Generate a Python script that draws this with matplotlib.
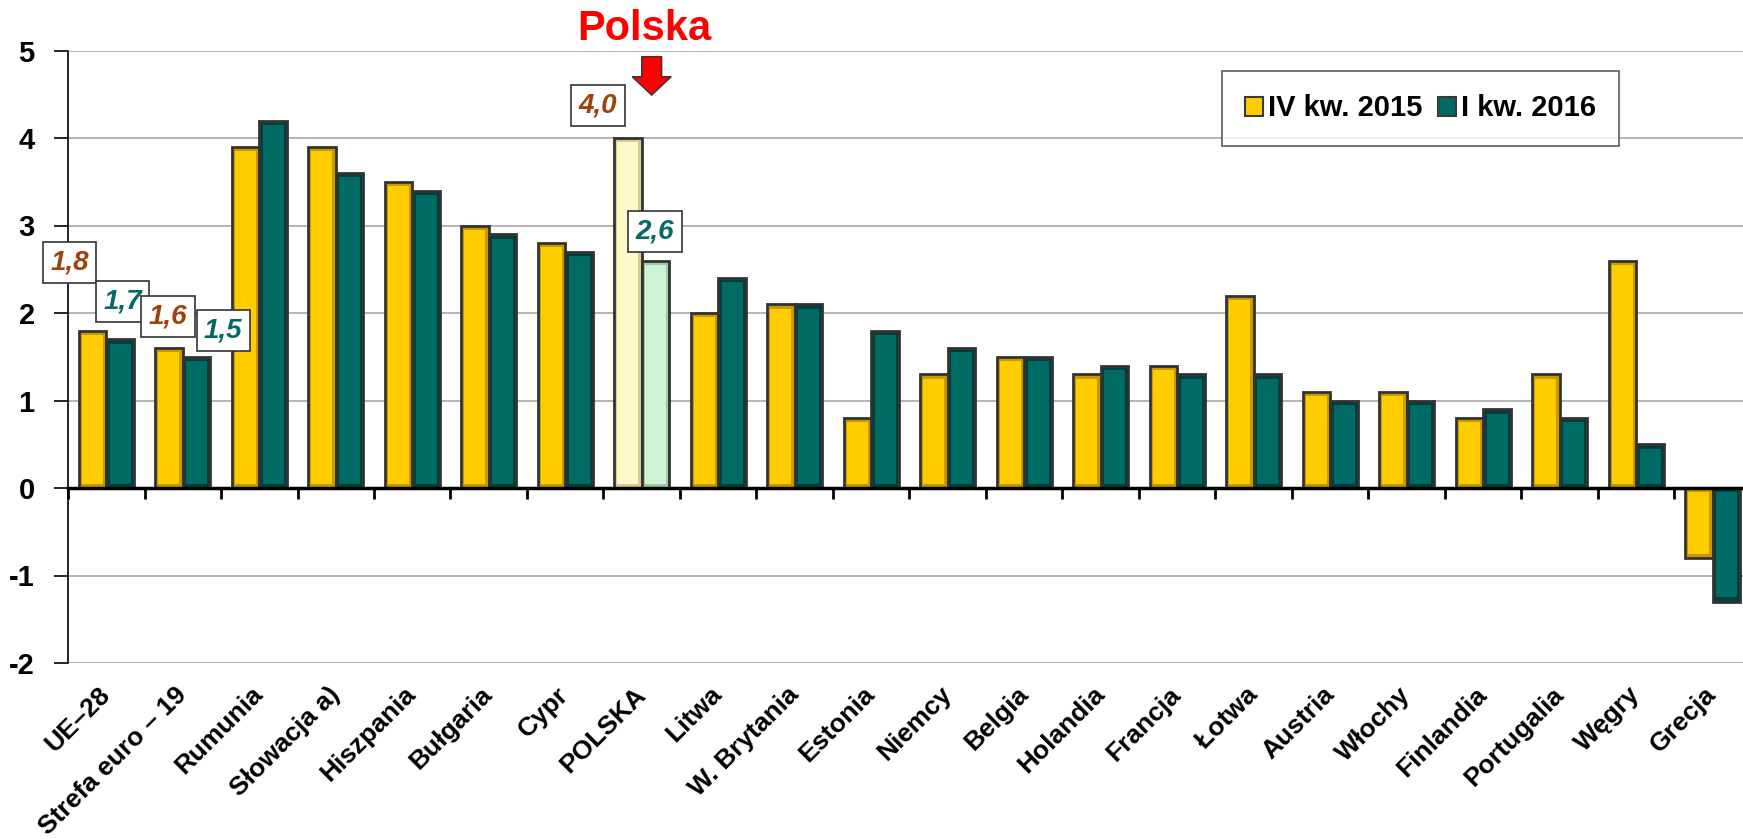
import numpy as np
import matplotlib.pyplot as plt
from matplotlib.patches import Patch, Polygon

plt.rcParams['font.family'] = ['Liberation Sans', 'DejaVu Sans']
plt.rcParams['font.weight'] = 'bold'
plt.rcParams['axes.unicode_minus'] = False

# data
countries = ['UE–28', 'Strefa euro – 19', 'Rumunia', 'Słowacja a)', 'Hiszpania',
             'Bułgaria', 'Cypr', 'POLSKA', 'Litwa', 'W. Brytania', 'Estonia',
             'Niemcy', 'Belgia', 'Holandia', 'Francja', 'Łotwa', 'Austria',
             'Włochy', 'Finlandia', 'Portugalia', 'Węgry', 'Grecja']
q4_2015 = [1.8, 1.6, 3.9, 3.9, 3.5, 3.0, 2.8, 4.0, 2.0, 2.1, 0.8,
           1.3, 1.5, 1.3, 1.4, 2.2, 1.1, 1.1, 0.8, 1.3, 2.6, -0.8]
q1_2016 = [1.7, 1.5, 4.2, 3.6, 3.4, 2.9, 2.7, 2.6, 2.4, 2.1, 1.8,
           1.6, 1.5, 1.4, 1.3, 1.3, 1.0, 1.0, 0.9, 0.8, 0.5, -1.3]
series_names = ['IV kw. 2015', 'I kw. 2016']
yticks = [-2, -1, 0, 1, 2, 3, 4, 5]

# colours
yellow, teal = '#FFCC00', '#006A64'
yellow_rim, teal_rim = '#C99A00', '#003F3B'
pl_yellow, pl_teal = '#FFF8C8', '#CFF2D6'
pl_yellow_rim, pl_teal_rim = '#D9CB8C', '#9CC9A6'
brown_txt = '#A0400A'

fig = plt.figure(figsize=(17.43, 8.39), dpi=100)
ax = fig.add_axes([68 / 1743, 1 - 663 / 839, (1751 - 68) / 1743, (663 - 50.5) / 839])

x = np.arange(len(countries))
w = 0.36
hl = countries.index('POLSKA')


def draw_bars(xpos, vals, face, rim, pl_face, pl_rim):
    faces = [pl_face if i == hl else face for i in range(len(vals))]
    rims = [pl_rim if i == hl else rim for i in range(len(vals))]
    ax.bar(xpos, vals, w, color=rims, edgecolor='#333333', linewidth=2, zorder=3)
    # inner face gives a simple bevelled look
    vals = np.array(vals)
    d = 0.05 * np.sign(vals)
    ax.bar(xpos, vals - 2 * d, w - 0.085, bottom=d, color=faces, linewidth=0, zorder=4)


draw_bars(x - w / 2, q4_2015, yellow, yellow_rim, pl_yellow, pl_yellow_rim)
draw_bars(x + w / 2, q1_2016, teal, teal_rim, pl_teal, pl_teal_rim)

ax.set_xlim(-0.5, len(countries) - 0.5)
ax.set_ylim(-2, 5)
ax.set_yticks(yticks)
ax.set_yticklabels([str(v) for v in yticks])
ax.yaxis.grid(True, color='#A8A8A8', linewidth=1.2)
ax.set_axisbelow(True)
ax.tick_params(axis='y', length=10, width=1.2, pad=14, labelsize=21)

for s in ['top', 'right']:
    ax.spines[s].set_visible(False)
ax.spines['left'].set_linewidth(1.2)
ax.spines['bottom'].set_position(('data', 0))
ax.spines['bottom'].set_linewidth(2.5)
ax.spines['bottom'].set_zorder(5)
ax.set_xticks(np.arange(len(countries) + 1) - 0.5)
ax.set_xticklabels([])
ax.tick_params(axis='x', length=8, width=2, direction='out')

# category labels below the plot area
sec = ax.secondary_xaxis('bottom')
sec.set_xticks(x)
sec.set_xticklabels(countries, rotation=45, ha='right', va='center',
                    rotation_mode='anchor', fontsize=19)
sec.tick_params(length=0, pad=20)
sec.spines['bottom'].set_visible(False)

# value boxes
def fmt(v):
    return f'{v:.1f}'.replace('.', ',')


box = dict(boxstyle='square,pad=0.27', facecolor='white', edgecolor='#333333', linewidth=1.2)
labels = [
    (-0.48, 2.58, q4_2015[0], brown_txt),
    (0.21, 2.13, q1_2016[0], teal),
    (0.81, 1.96, q4_2015[1], brown_txt),
    (1.53, 1.80, q1_2016[1], teal),
    (6.43, 4.37, q4_2015[hl], brown_txt),
    (7.17, 2.93, q1_2016[hl], teal),
]
for lx, ly, v, c in labels:
    ax.text(lx, ly, fmt(v), color=c, fontsize=20, fontstyle='italic', fontweight='bold',
            ha='center', va='center', bbox=box, zorder=6, clip_on=False)

# Polska marker
ax.text(7.04, 5.24, 'Polska', color='#FF0000', fontsize=30, fontweight='bold',
        ha='center', va='center', clip_on=False)
ax_x, top, neck, tip = 7.13, 4.93, 4.70, 4.49
arrow = Polygon([(ax_x - 0.13, top), (ax_x + 0.13, top), (ax_x + 0.13, neck),
                 (ax_x + 0.255, neck), (ax_x, tip), (ax_x - 0.255, neck),
                 (ax_x - 0.13, neck)], closed=True, facecolor='#FF0000',
                edgecolor='#333333', linewidth=1, zorder=6, clip_on=False)
ax.add_patch(arrow)

# legend
handles = [Patch(facecolor=yellow, edgecolor='#3A3A3A', linewidth=1.5),
           Patch(facecolor=teal, edgecolor='#3A3A3A', linewidth=1.5)]
leg = fig.legend(handles, series_names, loc='upper left',
                 bbox_to_anchor=(1222 / 1743, 1 - 71 / 839), ncol=2,
                 prop={'size': 21, 'weight': 'bold'}, frameon=True, fancybox=False,
                 handlelength=0.62, handleheight=0.62, handletextpad=0.15,
                 columnspacing=0.55, borderpad=0.8, borderaxespad=0)
leg.get_frame().set_edgecolor('#444444')
leg.get_frame().set_linewidth(1.3)

fig.savefig('out.png', dpi=100)
